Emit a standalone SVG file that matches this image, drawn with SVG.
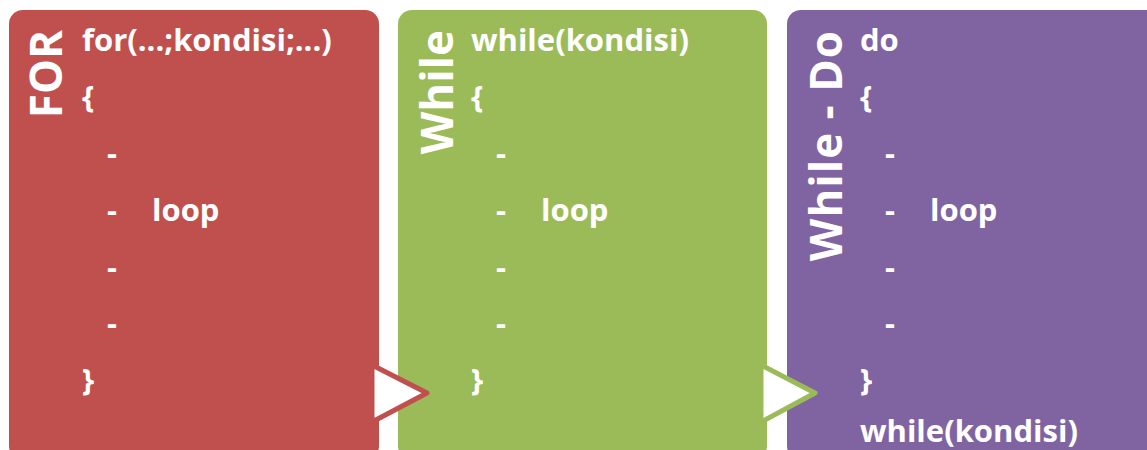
<svg xmlns="http://www.w3.org/2000/svg" width="1147" height="450" viewBox="0 0 1147 450">
  <style>
    .title { font-family: "Open Sans", "Liberation Sans", sans-serif; font-weight: bold; font-size: 44px; fill: #fff; text-anchor: end; }
    .code { font-family: "Open Sans", "Liberation Sans", sans-serif; font-weight: bold; font-size: 31px; fill: #fff; }
    .arrow { fill: #fff; stroke-width: 5; stroke-linejoin: round; }
  </style>
  <rect width="1147" height="450" fill="#fff"/>

  <g id="node-for">
    <rect x="9" y="10" width="370" height="450" rx="14" fill="#C0504D"/>
    <text class="title" transform="translate(62 30) rotate(-90)">FOR</text>
    <text class="code" x="82" y="51">for(...;kondisi;...)</text>
    <text class="code" x="82" y="108">{</text>
    <text class="code" x="107" y="164">-</text>
    <text class="code" x="107" y="221">-</text>
    <text class="code" x="152" y="221">loop</text>
    <text class="code" x="107" y="278">-</text>
    <text class="code" x="107" y="334">-</text>
    <text class="code" x="82" y="391">}</text>
  </g>

  <g id="node-while">
    <rect x="398" y="10" width="369" height="450" rx="14" fill="#9BBB59"/>
    <text class="title" transform="translate(453 30) rotate(-90)">While</text>
    <text class="code" x="471" y="51">while(kondisi)</text>
    <text class="code" x="471" y="108">{</text>
    <text class="code" x="496" y="164">-</text>
    <text class="code" x="496" y="221">-</text>
    <text class="code" x="541" y="221">loop</text>
    <text class="code" x="496" y="278">-</text>
    <text class="code" x="496" y="334">-</text>
    <text class="code" x="471" y="391">}</text>
  </g>

  <g id="node-dowhile">
    <rect x="787" y="10" width="380" height="450" rx="14" fill="#8064A2"/>
    <text class="title" transform="translate(842 30) rotate(-90)" letter-spacing="1">While - Do</text>
    <text class="code" x="860" y="51">do</text>
    <text class="code" x="860" y="108">{</text>
    <text class="code" x="885" y="164">-</text>
    <text class="code" x="885" y="221">-</text>
    <text class="code" x="930" y="221">loop</text>
    <text class="code" x="885" y="278">-</text>
    <text class="code" x="885" y="334">-</text>
    <text class="code" x="860" y="391">}</text>
    <text class="code" x="860" y="442">while(kondisi)</text>
  </g>

  <g id="connectors">
    <polygon class="arrow" stroke="#C0504D" points="372,365 427,393 372,422"/>
    <polygon class="arrow" stroke="#9BBB59" points="761,365 815,393 761,422"/>
  </g>
</svg>
